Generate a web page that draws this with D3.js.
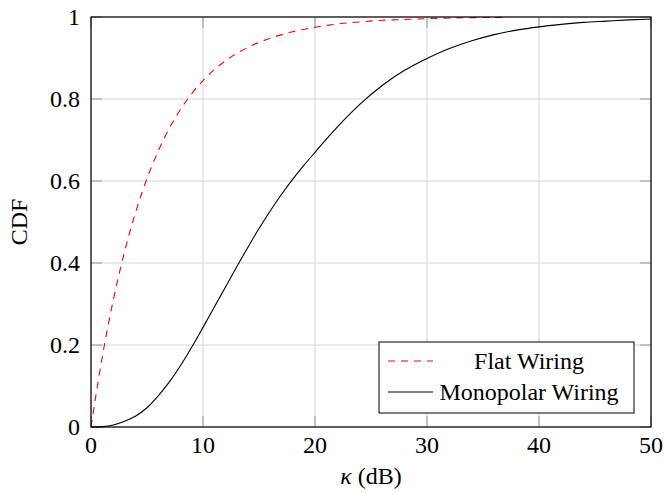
<!DOCTYPE html>
<html>
<head>
<meta charset="utf-8">
<script src="https://cdn.jsdelivr.net/npm/d3@7"></script>
<style>
  body { margin: 0; background: #fff; }
  svg { display: block; font-family: "Liberation Serif", "Times New Roman", serif; }
  .grid line { stroke: #d4d4d4; stroke-width: 1; }
  .tick-mark { stroke: #9a9a9a; stroke-width: 1; }
  .tick-label { font-size: 24px; fill: #000; }
</style>
</head>
<body>
<div id="chart"></div>
<script>
// Flat wiring CDF
const flatX = [0, 1, 2, 3, 4, 5, 6, 7, 8, 9, 10, 12, 14, 16, 18, 20, 22, 24, 26, 28, 30, 33, 37];
const flatY = [0, 0.17, 0.311, 0.428, 0.525, 0.606, 0.673, 0.729, 0.775, 0.813, 0.845, 0.893, 0.926, 0.948, 0.964, 0.975, 0.983, 0.988, 0.992, 0.994, 0.996, 0.998, 0.999];

// Monopolar wiring CDF
const monoX = [0, 1, 2, 3, 4, 5, 6, 7, 8, 9, 10, 11, 12, 13, 14, 15, 16, 17, 18, 19, 20, 22, 24, 26, 28, 30, 32, 34, 36, 38, 40, 42, 44, 46, 48, 50];
const monoY = [0, 0.001, 0.005, 0.014, 0.027, 0.047, 0.076, 0.11, 0.15, 0.195, 0.243, 0.292, 0.341, 0.39, 0.438, 0.484, 0.527, 0.567, 0.604, 0.638, 0.67, 0.732, 0.787, 0.833, 0.87, 0.899, 0.923, 0.942, 0.957, 0.968, 0.976, 0.982, 0.987, 0.99, 0.993, 0.995];

const xTicks = [0, 10, 20, 30, 40, 50];
const yTicks = [0, 0.2, 0.4, 0.6, 0.8, 1];
const seriesNames = ['Flat Wiring', 'Monopolar Wiring'];

const W = 665, H = 493;
const margin = { top: 17, right: 14, bottom: 66, left: 91 };
const width = W - margin.left - margin.right;
const height = H - margin.top - margin.bottom;

const svg = d3.select('#chart').append('svg')
    .attr('width', W)
    .attr('height', H);

const g = svg.append('g')
    .attr('transform', `translate(${margin.left},${margin.top})`);

const x = d3.scaleLinear().domain([0, 50]).range([0, width]);
const y = d3.scaleLinear().domain([0, 1]).range([height, 0]);

// grid
g.append('g').attr('class', 'grid')
    .selectAll('line').data(xTicks).enter().append('line')
    .attr('x1', d => x(d)).attr('x2', d => x(d))
    .attr('y1', 0).attr('y2', height);
g.append('g').attr('class', 'grid')
    .selectAll('line').data(yTicks).enter().append('line')
    .attr('x1', 0).attr('x2', width)
    .attr('y1', d => y(d)).attr('y2', d => y(d));

// inner tick marks on all four sides
const tl = 11;
const ticks = g.append('g');
xTicks.forEach(t => {
    ticks.append('line').attr('class', 'tick-mark')
        .attr('x1', x(t)).attr('x2', x(t)).attr('y1', height).attr('y2', height - tl);
    ticks.append('line').attr('class', 'tick-mark')
        .attr('x1', x(t)).attr('x2', x(t)).attr('y1', 0).attr('y2', tl);
});
yTicks.forEach(t => {
    ticks.append('line').attr('class', 'tick-mark')
        .attr('x1', 0).attr('x2', tl).attr('y1', y(t)).attr('y2', y(t));
    ticks.append('line').attr('class', 'tick-mark')
        .attr('x1', width).attr('x2', width - tl).attr('y1', y(t)).attr('y2', y(t));
});

// curves
const line = d3.line().x(d => x(d[0])).y(d => y(d[1])).curve(d3.curveMonotoneX);

g.append('path')
    .datum(flatX.map((v, i) => [v, flatY[i]]))
    .attr('fill', 'none')
    .attr('stroke', '#ff0000')
    .attr('stroke-width', 1.1)
    .attr('stroke-dasharray', '7,6')
    .attr('d', line);

g.append('path')
    .datum(monoX.map((v, i) => [v, monoY[i]]))
    .attr('fill', 'none')
    .attr('stroke', '#000')
    .attr('stroke-width', 1.1)
    .attr('d', line);

// frame
g.append('rect')
    .attr('width', width).attr('height', height)
    .attr('fill', 'none').attr('stroke', '#000').attr('stroke-width', 1.2);

// tick labels
g.append('g').selectAll('text').data(xTicks).enter().append('text')
    .attr('class', 'tick-label')
    .attr('x', d => x(d)).attr('y', height + 26)
    .attr('text-anchor', 'middle')
    .text(d => d);

g.append('g').selectAll('text').data(yTicks).enter().append('text')
    .attr('class', 'tick-label')
    .attr('x', -11).attr('y', d => y(d))
    .attr('dy', '0.33em')
    .attr('text-anchor', 'end')
    .text(d => d);

// axis titles
svg.append('text')
    .attr('x', margin.left + width / 2)
    .attr('y', 484)
    .attr('text-anchor', 'middle')
    .style('font-size', '24px')
    .html('<tspan font-style="italic">κ</tspan> (dB)');

svg.append('text')
    .attr('transform', `translate(27,${margin.top + height / 2}) rotate(-90)`)
    .attr('text-anchor', 'middle')
    .style('font-size', '24px')
    .text('CDF');

// legend
const lg = svg.append('g').attr('transform', 'translate(379,342)');
lg.append('rect')
    .attr('width', 255).attr('height', 71)
    .attr('fill', '#fff').attr('stroke', '#000').attr('stroke-width', 1);

const legendRows = [
    { name: seriesNames[0], color: '#ff0000', dash: '7,6', cy: 19 },
    { name: seriesNames[1], color: '#000', dash: null, cy: 50 }
];
legendRows.forEach(r => {
    lg.append('line')
        .attr('x1', 9).attr('x2', 54)
        .attr('y1', r.cy).attr('y2', r.cy)
        .attr('stroke', r.color).attr('stroke-width', 1.1)
        .attr('stroke-dasharray', r.dash);
    lg.append('text')
        .attr('x', 150).attr('y', r.cy)
        .attr('dy', '0.33em')
        .attr('text-anchor', 'middle')
        .style('font-size', '24px')
        .text(r.name);
});
</script>
</body>
</html>
